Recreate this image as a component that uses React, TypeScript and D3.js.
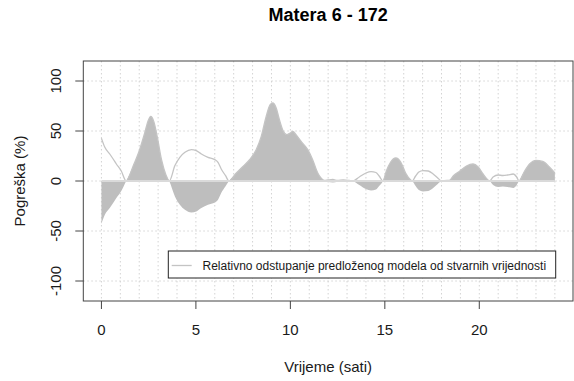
import React from "react";
import * as d3 from "d3";

const title = "Matera 6 - 172";
const xLabel = "Vrijeme (sati)";
const yLabel = "Pogreška (%)";
const legendLabel = "Relativno odstupanje predloženog modela od stvarnih vrijednosti";

const xTicks = [0, 5, 10, 15, 20];
const yTicks = [-100, -50, 0, 50, 100];
const xGrid = d3.range(0, 25);

// Signed relative error (%)
const hours = [
  0, 0.18, 0.44, 0.62, 0.79, 1.05, 1.31,
  1.67, 2.02, 2.29, 2.46, 2.61, 2.77, 2.95, 3.18, 3.41, 3.59,
  3.89, 4.15, 4.42, 4.76, 5.02, 5.29, 5.64, 6.0, 6.17, 6.34, 6.57, 6.75,
  7.14, 7.49, 7.84, 8.19, 8.46, 8.72, 8.93, 9.07, 9.25, 9.42, 9.63, 9.81, 9.99, 10.13, 10.3, 10.57, 10.92, 11.18, 11.45, 11.62, 11.8,
  12.0, 12.25, 12.5, 12.8, 13.1, 13.3,
  13.65, 14.0, 14.27, 14.53, 14.7, 14.9,
  15.08, 15.31, 15.58, 15.84, 16.1, 16.37, 16.45,
  16.63, 16.8, 17.02, 17.3, 17.56, 17.8, 18.0,
  18.3, 18.45, 18.62, 18.97, 19.32, 19.67, 19.94, 20.2, 20.46, 20.55,
  20.73, 21.0, 21.25, 21.5, 21.8, 21.98, 22.1,
  22.4, 22.66, 23.0, 23.36, 23.71, 24.0,
];
const errors = [
  -42.7, -33.7, -27, -22, -17, -10, 0,
  14.6, 31.3, 48, 59.6, 64.6, 59.6, 44.6, 21.3, 6.3, 0,
  -15.4, -23.7, -28.7, -31.4, -30.4, -27, -23.7, -21.4, -18.7, -12, -5.3, 0,
  8, 14.6, 21.3, 31.3, 44.6, 64.6, 76.3, 78, 73, 61.3, 49.6, 46.3, 48, 49.6, 46.3, 39.6, 31.3, 21.3, 8, 3, 0.5,
  -1, -1.5, -0.5, 1, 0.5, 0,
  -4, -8, -9.4, -8.5, -5, 0,
  10, 19, 23, 19, 8, 1, 0,
  -5, -9, -10.4, -10, -7, -3, 0,
  0.5, 1, 5, 10, 15, 17, 14, 7, 1, 0,
  -4, -6, -5.5, -6, -7, -4, 0,
  10, 17, 20.6, 19.6, 14, 8,
];

const W = 574;
const H = 381;
const left = 83.3;
const right = 573;
const top = 61;
const bottom = 301;

export default function App() {
  const data = hours.map((h, i) => ({ h, v: errors[i] }));
  const x = d3.scaleLinear().domain([-0.96, 24.96]).range([left, right]);
  const y = d3.scaleLinear().domain([-120, 120]).range([bottom, top]);

  const area = d3
    .area<{ h: number; v: number }>()
    .x((d) => x(d.h))
    .y0(y(0))
    .y1((d) => y(d.v))
    .curve(d3.curveMonotoneX);
  const line = d3
    .line<{ h: number; v: number }>()
    .x((d) => x(d.h))
    .y((d) => y(Math.abs(d.v)))
    .curve(d3.curveMonotoneX);

  const font = "'Liberation Sans', Arial, sans-serif";
  const gridColor = "#d3d3d3";
  const textColor = "#1a1a1a";

  return (
    <svg
      width={W}
      height={H}
      style={{ position: "fixed", left: 0, top: 0, background: "#fff" }}
      fontFamily={font}
    >
      <rect x={0} y={0} width={W} height={H} fill="#fff" />
      {/* grid */}
      {xGrid.map((g) => (
        <line
          key={"vg" + g}
          x1={x(g)}
          x2={x(g)}
          y1={top}
          y2={bottom}
          stroke={gridColor}
          strokeDasharray="1.5,2.5"
        />
      ))}
      {yTicks.map((t) => (
        <line
          key={"hg" + t}
          x1={left}
          x2={right}
          y1={y(t)}
          y2={y(t)}
          stroke={gridColor}
          strokeDasharray="1.5,2.5"
        />
      ))}
      {/* fill and line */}
      <path d={area(data) || ""} fill="#bebebe" stroke="none" />
      <path d={line(data) || ""} fill="none" stroke="#c4c4c4" strokeWidth={1.3} />
      <line
        x1={x(hours[0])}
        x2={x(hours[hours.length - 1])}
        y1={y(0)}
        y2={y(0)}
        stroke="#dadada"
        strokeWidth={2}
      />
      {/* box */}
      <rect
        x={left}
        y={top}
        width={right - left}
        height={bottom - top}
        fill="none"
        stroke="#444"
        strokeWidth={1}
      />
      {/* x axis */}
      {xTicks.map((t) => (
        <g key={"xt" + t}>
          <line x1={x(t)} x2={x(t)} y1={bottom} y2={bottom + 8} stroke="#444" />
          <text
            x={x(t)}
            y={335}
            textAnchor="middle"
            fontSize={15}
            fill={textColor}
          >
            {t}
          </text>
        </g>
      ))}
      {/* y axis */}
      {yTicks.map((t) => (
        <g key={"yt" + t}>
          <line x1={left - 8} x2={left} y1={y(t)} y2={y(t)} stroke="#444" />
          <text
            transform={`translate(61,${y(t)}) rotate(-90)`}
            textAnchor="middle"
            fontSize={15}
            fill={textColor}
          >
            {t}
          </text>
        </g>
      ))}
      {/* labels */}
      <text
        x={(left + right) / 2}
        y={21}
        textAnchor="middle"
        fontSize={18}
        fontWeight="bold"
        fill="#000"
      >
        {title}
      </text>
      <text
        x={(left + right) / 2}
        y={372}
        textAnchor="middle"
        fontSize={15}
        fill={textColor}
      >
        {xLabel}
      </text>
      <text
        transform={`translate(25,${(top + bottom) / 2}) rotate(-90)`}
        textAnchor="middle"
        fontSize={15}
        fill={textColor}
      >
        {yLabel}
      </text>
      {/* legend */}
      <rect
        x={168.3}
        y={251}
        width={387.4}
        height={27}
        fill="#fff"
        stroke="#222"
        strokeWidth={1}
      />
      <line x1={171.7} x2={191.7} y1={265.5} y2={265.5} stroke="#c4c4c4" strokeWidth={1.3} />
      <text x={202.5} y={270} fontSize={12} fill={textColor}>
        {legendLabel}
      </text>
    </svg>
  );
}
